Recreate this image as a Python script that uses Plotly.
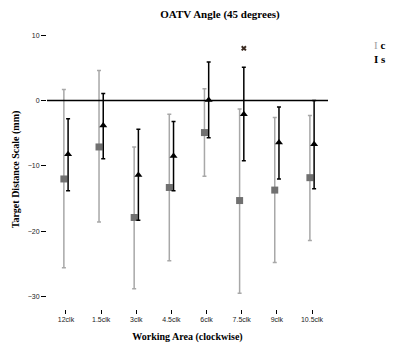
import plotly.graph_objects as go

categories = ["12clk", "1.5clk", "3clk", "4.5clk", "6clk", "7.5clk", "9clk", "10.5clk"]

c_mean = [-12.0, -7.1, -17.9, -13.3, -4.9, -15.3, -13.7, -11.8]
c_upper = [1.7, 4.6, -7.1, -2.1, 1.8, -1.3, -2.6, -2.3]
c_lower = [-25.6, -18.6, -28.8, -24.5, -11.6, -29.5, -24.8, -21.4]

s_mean = [-8.2, -3.8, -11.4, -8.5, 0.1, -2.1, -6.4, -6.7]
s_upper = [-2.8, 1.1, -4.4, -3.2, 5.9, 5.1, -1.0, 0.0]
s_lower = [-13.8, -8.9, -18.3, -13.8, -5.7, -9.2, -12.0, -13.5]

outlier_cat = [5]
outlier_val = [8.0]

idx = list(range(len(categories)))
serif = "Liberation Serif, Times New Roman, serif"
sans = "Liberation Sans, Arial, sans-serif"

fig = go.Figure()

fig.add_trace(go.Scatter(
    x=[i - 0.06 for i in idx], y=c_mean, mode="markers", name="c",
    marker=dict(symbol="square", size=7, color="#707070"),
    error_y=dict(type="data", symmetric=False,
                 array=[u - m for u, m in zip(c_upper, c_mean)],
                 arrayminus=[m - l for m, l in zip(c_mean, c_lower)],
                 color="#a8a8a8", thickness=1.5, width=2),
    showlegend=False))

fig.add_trace(go.Scatter(
    x=[i + 0.06 for i in idx], y=s_mean, mode="markers", name="s",
    marker=dict(symbol="triangle-up", size=7, color="#000000"),
    error_y=dict(type="data", symmetric=False,
                 array=[u - m for u, m in zip(s_upper, s_mean)],
                 arrayminus=[m - l for m, l in zip(s_mean, s_lower)],
                 color="#000000", thickness=1.5, width=2),
    showlegend=False))

fig.add_trace(go.Scatter(
    x=[i + 0.06 for i in outlier_cat], y=outlier_val, mode="markers",
    marker=dict(symbol="x", size=5, color="#3a2a20"), showlegend=False))

fig.add_hline(y=0, line=dict(color="black", width=1.5))

fig.update_layout(
    width=400, height=352,
    margin=dict(l=47, r=72, t=30, b=40),
    plot_bgcolor="white", paper_bgcolor="white",
    title=dict(text="<b>OATV Angle (45 degrees)</b>", x=0.55, xanchor="center",
               y=0.96, yanchor="middle", font=dict(family=serif, size=11, color="black")),
    xaxis=dict(range=[-0.54, 7.455], tickvals=idx, ticktext=categories,
               showgrid=False, zeroline=False, showline=False,
               ticks="outside", ticklen=4, tickcolor="black",
               tickfont=dict(family=sans, size=7, color="#222"),
               title=dict(text="<b>Working Area (clockwise)</b>", standoff=10,
                          font=dict(family=serif, size=10, color="black"))),
    yaxis=dict(range=[-31.9, 10.8], tickvals=[10, 0, -10, -20, -30],
               showgrid=False, zeroline=False, showline=False,
               ticks="outside", ticklen=5, tickcolor="black",
               tickfont=dict(family=sans, size=7, color="#222"),
               title=dict(text="<b>Target Distance Scale (mm)</b>", standoff=6,
                          font=dict(family=serif, size=10, color="black"))),
    annotations=[
        dict(x=1.155, y=0.92, xref="paper", yref="paper", showarrow=False,
             xanchor="left", yanchor="middle", align="left",
             text="<span style='color:#a0a0a0'>I</span> <b>c</b><br><b>I s</b>",
             font=dict(family=serif, size=11, color="black")),
    ],
)

fig.write_html("out.html")
